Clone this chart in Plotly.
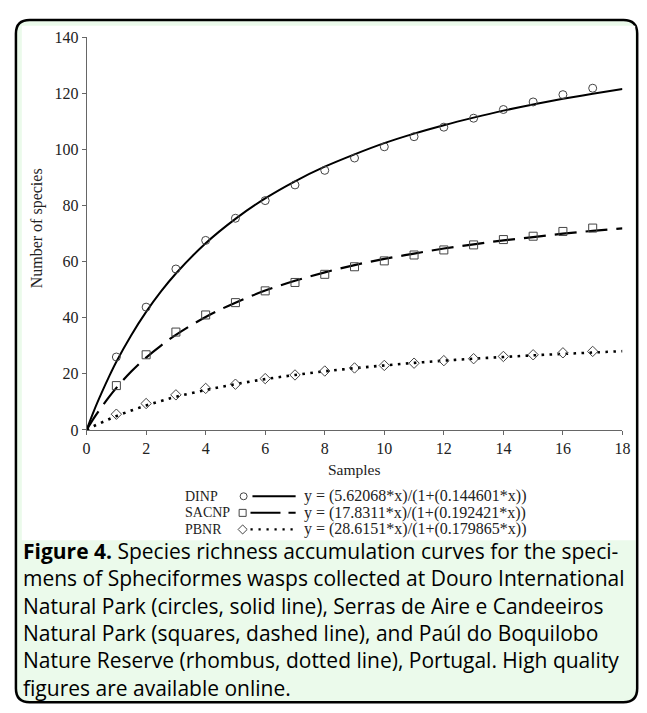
import plotly.graph_objects as go

W, H = 647, 713
OFF = 8  # the page body margin shifts the figure by 8 px; layout is given in page pixels

# ---------------- data ----------------
samples = list(range(1, 18))
dinp_obs = [26.0, 43.8, 57.4, 67.6, 75.5, 81.8, 87.4, 92.6, 97.0, 101.0,
             104.6, 108.0, 111.2, 114.3, 117.0, 119.6, 121.9]
sacnp_obs = [15.8, 26.8, 34.9, 41.0, 45.4, 49.6, 52.6, 55.5, 58.2, 60.3,
              62.4, 64.2, 66.0, 67.9, 69.1, 70.8, 72.0]
pbnr_obs = [5.6, 9.4, 12.5, 14.8, 16.3, 18.3, 19.6, 21.0, 22.1, 23.0,
             23.8, 24.7, 25.4, 26.2, 26.8, 27.5, 28.0]

curve_x = [0, 0.25, 0.5, 0.75, 1, 1.5, 2, 2.5, 3, 4, 5, 6, 7, 8, 9, 10,
           11, 12, 13, 14, 15, 16, 17, 18]
dinp_fit = [0, 6.9, 13.1, 18.9, 24.3, 33.8, 42.1, 49.4, 55.8, 66.6, 75.3,
            82.6, 88.7, 93.9, 98.3, 102.3, 105.7, 108.7, 111.4, 113.9,
            116.1, 118.1, 119.9, 121.6]
sacnp_fit = [0, 4.3, 8.1, 11.7, 15.0, 20.8, 25.8, 30.1, 33.9, 40.3, 45.4,
             49.7, 53.2, 56.2, 58.8, 61.0, 62.9, 64.7, 66.2, 67.6, 68.8,
             70.0, 71.0, 71.9]
pbnr_fit = [0, 1.4, 2.6, 3.8, 4.9, 6.9, 8.7, 10.3, 11.8, 14.2, 16.3, 18.1,
            19.6, 20.9, 22.0, 23.0, 23.9, 24.7, 25.4, 26.0, 26.6, 27.1,
            27.6, 28.1]

x_ticks = list(range(0, 19, 2))
y_ticks = list(range(0, 141, 20))

series_names = ["DINP", "SACNP", "PBNR"]
equations = ["y = (5.62068*x)/(1+(0.144601*x))",
             "y = (17.8311*x)/(1+(0.192421*x))",
             "y = (28.6151*x)/(1+(0.179865*x))"]

caption_lines = [
    "<b>Figure 4.</b> Species richness accumulation curves for the speci-",
    "mens of Spheciformes wasps collected at Douro International",
    "Natural Park (circles, solid line), Serras de Aire e Candeeiros",
    "Natural Park (squares, dashed line), and Paúl do Boquilobo",
    "Nature Reserve (rhombus, dotted line), Portugal. High quality",
    "figures are available online.",
]

# ---------------- helpers (page pixels -> paper) ----------------
def px(x):
    return (x - OFF) / W

def py(y):
    return 1 - (y - OFF) / H

SERIF = "Liberation Serif"
SANS = "Open Sans"

# plot area in page pixels
PL, PR, PT, PB = 84, 630, 30, 432

fig = go.Figure()

# fitted curves
fig.add_trace(go.Scatter(x=curve_x, y=dinp_fit, mode="lines",
                         line=dict(color="black", width=2, shape="spline"),
                         hoverinfo="skip"))
fig.add_trace(go.Scatter(x=curve_x, y=sacnp_fit, mode="lines",
                         line=dict(color="black", width=2.2, shape="spline",
                                   dash="22px,9px"),
                         hoverinfo="skip"))
fig.add_trace(go.Scatter(x=curve_x, y=pbnr_fit, mode="lines",
                         line=dict(color="black", width=2.6, shape="spline",
                                   dash="2.6px,5.4px"),
                         hoverinfo="skip"))

# observed points
mk_line = dict(color="#444", width=1)
fig.add_trace(go.Scatter(x=samples, y=dinp_obs, mode="markers",
                         marker=dict(symbol="circle-open", size=8, color="#444",
                                     line=mk_line)))
fig.add_trace(go.Scatter(x=samples, y=sacnp_obs, mode="markers",
                         marker=dict(symbol="square-open", size=8, color="#444",
                                     line=mk_line)))
fig.add_trace(go.Scatter(x=samples, y=pbnr_obs, mode="markers",
                         marker=dict(symbol="diamond-open", size=8, color="#444",
                                     line=mk_line)))

# legend glyph markers on a full-page pixel overlay axis
leg_rows = [500, 517, 534]
leg_marker_x = [244, 243, 243]
leg_symbols = ["circle-open", "square-open", "diamond-open"]
fig.add_trace(go.Scatter(x=leg_marker_x, y=leg_rows, mode="markers",
                         xaxis="x2", yaxis="y2",
                         marker=dict(symbol=leg_symbols, size=7, color="#444",
                                     line=mk_line),
                         hoverinfo="skip"))

shapes = []
# outer rounded green box
r = 14
x0, y0, x1, y1 = 12, 12, 645, 711
path = (f"M {px(x0 + r)},{py(y0)} L {px(x1 - r)},{py(y0)} "
        f"Q {px(x1)},{py(y0)} {px(x1)},{py(y0 + r)} "
        f"L {px(x1)},{py(y1 - r)} Q {px(x1)},{py(y1)} {px(x1 - r)},{py(y1)} "
        f"L {px(x0 + r)},{py(y1)} Q {px(x0)},{py(y1)} {px(x0)},{py(y1 - r)} "
        f"L {px(x0)},{py(y0 + r)} Q {px(x0)},{py(y0)} {px(x0 + r)},{py(y0)} Z")
shapes.append(dict(type="path", path=path, xref="paper", yref="paper",
                   fillcolor="#ebfaeb", line=dict(color="black", width=2.5),
                   layer="below"))
# white chart panel
shapes.append(dict(type="rect", xref="paper", yref="paper",
                   x0=px(18), x1=px(643), y0=py(545), y1=py(18),
                   fillcolor="white", line=dict(width=0), layer="below"))

# legend line samples
shapes.append(dict(type="line", xref="x2", yref="y2", x0=253, x1=297,
                   y0=leg_rows[0], y1=leg_rows[0],
                   line=dict(color="black", width=2)))
shapes.append(dict(type="line", xref="x2", yref="y2", x0=251, x1=297,
                   y0=leg_rows[1], y1=leg_rows[1],
                   line=dict(color="black", width=2, dash="30px,8px")))
shapes.append(dict(type="line", xref="x2", yref="y2", x0=251, x1=297,
                   y0=leg_rows[2], y1=leg_rows[2],
                   line=dict(color="black", width=2.2, dash="2.2px,5.8px")))

annotations = []
# axis titles
annotations.append(dict(text="Samples", x=px((PL + PR) / 2), y=py(473),
                        xref="paper", yref="paper", showarrow=False,
                        xanchor="center", yanchor="middle",
                        font=dict(family=SERIF, size=15.5, color="#222")))
annotations.append(dict(text="Number of species", x=px(33), y=py(226),
                        xref="paper", yref="paper", showarrow=False,
                        textangle=-90, xanchor="center", yanchor="middle",
                        font=dict(family=SERIF, size=16, color="#222")))
# legend texts
for name, eq, row in zip(series_names, equations, leg_rows):
    annotations.append(dict(text=name, x=px(182), y=py(row), xref="paper",
                            yref="paper", showarrow=False, xanchor="left",
                            yanchor="middle",
                            font=dict(family=SERIF, size=14, color="#222")))
    annotations.append(dict(text=eq, x=px(303), y=py(row), xref="paper",
                            yref="paper", showarrow=False, xanchor="left",
                            yanchor="middle",
                            font=dict(family=SERIF, size=16, color="#222")))
# caption
cap_y0, cap_dy = 556, 28
for i, line in enumerate(caption_lines):
    annotations.append(dict(text=line, x=px(17), y=py(cap_y0 + i * cap_dy),
                            xref="paper", yref="paper", showarrow=False,
                            xanchor="left", yanchor="middle",
                            font=dict(family=SANS, size=21, color="black")))

axis_common = dict(showline=True, linecolor="#666", linewidth=1,
                   ticks="outside", ticklen=4, tickcolor="#666",
                   showgrid=False, zeroline=False,
                   tickfont=dict(family=SERIF, size=16, color="#222"))

fig.update_layout(
    width=W, height=H,
    margin=dict(l=0, r=0, t=0, b=0, pad=0),
    paper_bgcolor="white",
    plot_bgcolor="rgba(0,0,0,0)",
    showlegend=False,
    xaxis=dict(domain=[px(PL), px(PR)], range=[0, 18], tickvals=x_ticks,
               anchor="y", **axis_common),
    yaxis=dict(domain=[py(PB), py(PT)], range=[0, 140], tickvals=y_ticks,
               anchor="x", **axis_common),
    xaxis2=dict(domain=[0, 1], range=[OFF, W + OFF], visible=False,
                anchor="y2"),
    yaxis2=dict(domain=[0, 1], range=[H + OFF, OFF], visible=False,
                anchor="x2"),
    shapes=shapes,
    annotations=annotations,
)

fig.write_html("out.html", config={"displayModeBar": False})
